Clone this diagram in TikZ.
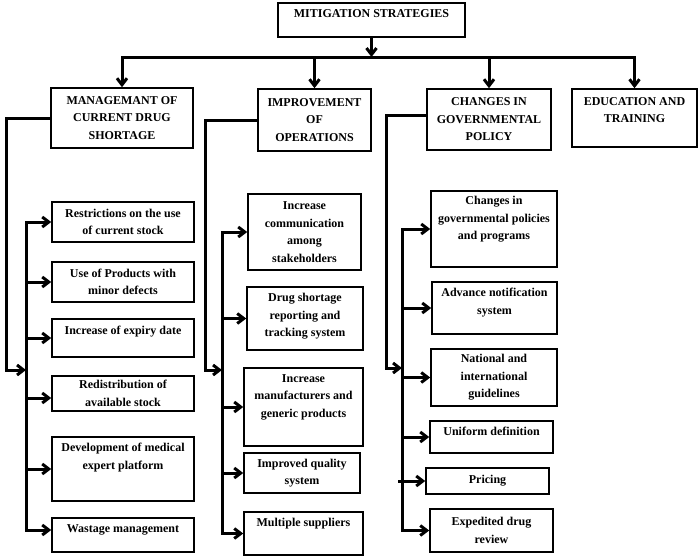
\documentclass[tikz,border=0pt]{standalone}
\usepackage{fontspec}
\setmainfont{Liberation Serif}
\usetikzlibrary{arrows.meta}
\newcommand\cbox[3]{\parbox[c][#2][c]{#1}{\centering #3}}
\newcommand\tbox[4]{\parbox[c][#2][t]{#1}{\centering\vspace*{#3}#4}}
\tikzset{
  box/.style={draw, line width=1.6pt, inner sep=0pt, font=\bfseries\fontsize{12}{17.5}\selectfont},
  conn/.style={line width=3pt, line join=miter},
  arr/.style={conn, -{Straight Barb[length=6.5pt,width=10pt]}},
}
\begin{document}
\begin{tikzpicture}[x=1pt,y=-1pt]
\useasboundingbox (0,0) rectangle (699,558);
% top level
\node[box] (T) at (371.5,20) {\tbox{187pt}{34pt}{6.5pt}{MITIGATION STRATEGIES}};
\node[box] (A) at (122,118) {\cbox{142pt}{60pt}{MANAGEMANT OF\\CURRENT DRUG\\SHORTAGE}};
\node[box] (B) at (314.5,120) {\cbox{113pt}{62pt}{IMPROVEMENT\\OF\\OPERATIONS}};
\node[box] (C) at (489,119.5) {\cbox{124pt}{61pt}{CHANGES IN\\GOVERNMENTAL\\POLICY}};
\node[box] (D) at (634.5,118) {\tbox{125pt}{58pt}{8.5pt}{EDUCATION AND\\TRAINING}};
% column 1
\node[box] (a1) at (123,222) {\cbox{142pt}{40pt}{Restrictions on the use\\of current stock}};
\node[box] (a2) at (123,282) {\cbox{142pt}{40pt}{Use of Products with\\minor defects}};
\node[box] (a3) at (123,338) {\tbox{142pt}{38pt}{7pt}{Increase of expiry date}};
\node[box] (a4) at (123,393.5) {\cbox{142pt}{35pt}{Redistribution of\\available stock}};
\node[box] (a5) at (123,469) {\tbox{142pt}{64pt}{6.5pt}{Development of medical\\expert platform}};
\node[box] (a6) at (123,535) {\tbox{142pt}{34pt}{7pt}{Wastage management}};
% column 2
\node[box] (b1) at (304.5,232) {\cbox{113pt}{76pt}{Increase\\communication\\among\\stakeholders}};
\node[box] (b2) at (305,318.5) {\tbox{116pt}{63pt}{6.5pt}{Drug shortage\\reporting and\\tracking system}};
\node[box] (b3) at (303.5,407) {\tbox{119pt}{78pt}{6.5pt}{Increase\\manufacturers and\\generic products}};
\node[box] (b4) at (302,473) {\cbox{116pt}{40pt}{Improved quality\\system}};
\node[box] (b5) at (303.5,533.5) {\tbox{119pt}{43pt}{6.5pt}{Multiple suppliers}};
% column 3
\node[box] (c1) at (494,229) {\tbox{126pt}{76pt}{5.5pt}{Changes in\\governmental policies\\and programs}};
\node[box] (c2) at (494.5,308) {\tbox{125pt}{52pt}{6.5pt}{Advance notification\\system}};
\node[box] (c3) at (494,377.5) {\cbox{126pt}{57pt}{National and\\international\\guidelines}};
\node[box] (c4) at (491.5,437) {\tbox{123pt}{32pt}{6.5pt}{Uniform definition}};
\node[box] (c5) at (487.5,481) {\cbox{123pt}{26pt}{Pricing}};
\node[box] (c6) at (491.5,530.5) {\cbox{123pt}{43pt}{Expedited drug\\review}};
% helper coordinates
\coordinate (bus) at (0,57);
\coordinate (l1) at (6,370);   \coordinate (v1) at (26,370);
\coordinate (l2) at (205,370); \coordinate (v2) at (222,370);
\coordinate (l3) at (386,368); \coordinate (v3) at (402,368);
\coordinate (a4t) at ([yshift=-4.5pt]a4.west);
\coordinate (a6t) at ([yshift=5pt]a6.west);
\coordinate (Cw) at ([yshift=4.5pt]C.west);
\coordinate (c5s) at (v3 |- c5.west);
% top connectors
\draw[arr] (T.south) -- (T.south |- bus);
\draw[arr] (T.south |- bus) -| (A.north);
\draw[arr] (T.south |- bus) -| (D.north);
\draw[arr] (B.north |- bus) -- (B.north);
\draw[arr] (C.north |- bus) -- (C.north);
% column 1 connectors
\draw[arr] (A.west) -| (l1) -- (v1);
\draw[arr] (v1 |- a6t) |- (a1.west);
\draw[arr] (v1 |- a1.west) |- (a6t);
\draw[arr] (v1 |- a2.west) -- (a2.west);
\draw[arr] (v1 |- a3.west) -- (a3.west);
\draw[arr] (v1 |- a4t) -- (a4t);
\draw[arr] (v1 |- a5.west) -- (a5.west);
% column 2 connectors
\draw[arr] (B.west) -| (l2) -- (v2);
\draw[arr] (v2 |- b5.west) |- (b1.west);
\draw[arr] (v2 |- b1.west) |- (b5.west);
\draw[arr] (v2 |- b2.west) -- (b2.west);
\draw[arr] (v2 |- b3.west) -- (b3.west);
\draw[arr] (v2 |- b4.west) -- (b4.west);
% column 3 connectors
\draw[arr] (Cw) -| (l3) -- (v3);
\draw[arr] (v3 |- c6.west) |- (c1.west);
\draw[arr] (v3 |- c1.west) |- (c6.west);
\draw[arr] (v3 |- c2.west) -- (c2.west);
\draw[arr] (v3 |- c3.west) -- (c3.west);
\draw[arr] (v3 |- c4.west) -- (c4.west);
\draw[arr] ([xshift=-4pt]c5s) -- (c5.west);
\end{tikzpicture}
\end{document}
